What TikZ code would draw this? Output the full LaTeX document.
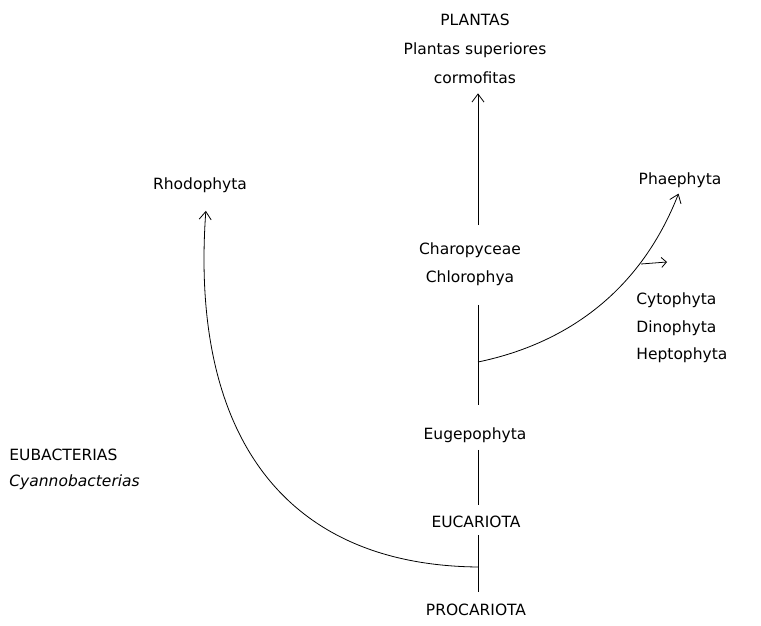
\documentclass[tikz,border=0pt]{standalone}
\usepackage{fontspec}
\setmainfont{DejaVu Sans}
\usetikzlibrary{arrows.meta}
\tikzset{tree/.style={x=1pt,y=-1pt,font=\fontsize{15.5}{18}\selectfont,line width=0.8pt}}
\tikzset{taxon/.style={inner sep=2pt},
         lineage/.style={-{Straight Barb[length=8pt,width=12pt]}},
         nub/.style={-{Straight Barb[length=5pt,width=10pt]}}}

\begin{document}
\begin{tikzpicture}[tree]
    \useasboundingbox (0,0) rectangle (761,626);
    % labels
    \node[taxon] (plantas) at (475,20) {PLANTAS};
    \node[taxon] (superior) at (475,50) {Plantas superiores};
    \node[taxon] (cormo) at (475,78) {cormofitas};
    \node[taxon] (charo) at (470,250) {Charopyceae};
    \node[taxon] (chloro) at (470,278) {Chlorophya};
    \node[taxon] (euge) at (475,435) {Eugepophyta};
    \node[taxon] (eucar) at (476,522) {EUCARIOTA};
    \node[taxon] (procar) at (476,610) {PROCARIOTA};
    \node[taxon] (rhodo) at (200,185) {Rhodophyta};
    \node[taxon] (phae) at (680,180) {Phaephyta};
    \node[taxon,anchor=west] (cyto) at (634,300) {Cytophyta};
    \node[taxon,anchor=west] (dino) at (634,328) {Dinophyta};
    \node[taxon,anchor=west] (hepto) at (634,355) {Heptophyta};
    \node[taxon,anchor=west] (eubac) at (7,455) {EUBACTERIAS};
    \node[taxon,anchor=west,font=\fontsize{15.5}{18}\selectfont\itshape] (cyano) at (7,482) {Cyannobacterias};
    % main stem
    \coordinate (spine) at (478,0);
    \draw[lineage,shorten <=15pt,shorten >=7pt] (charo.north -| spine) -- (cormo.south -| spine);
    \draw[shorten <=17pt,shorten >=20pt] (chloro.south -| spine) -- (euge.north -| spine);
    \draw[shorten <=5pt,shorten >=9pt] (euge.south -| spine) -- (eucar.north -| spine);
    \draw[shorten <=5pt,shorten >=10pt] (eucar.south -| spine) -- (procar.north -| spine);
    % side branches
    \coordinate (fork1) at (478,362);
    \coordinate (fork2) at (478,567);
    \draw[lineage,shorten >=4pt] (fork1) .. controls (560,345) and (638,297) .. (phae.south);
    \draw[lineage,shorten >=16pt] (fork2) .. controls (280,565) and (190,430) .. ([xshift=7pt]rhodo.south);
    \coordinate (nubA) at (641,264);
    \coordinate (nubB) at (667,262);
    \draw[nub] (nubA) -- (nubB);
\end{tikzpicture}
\end{document}
